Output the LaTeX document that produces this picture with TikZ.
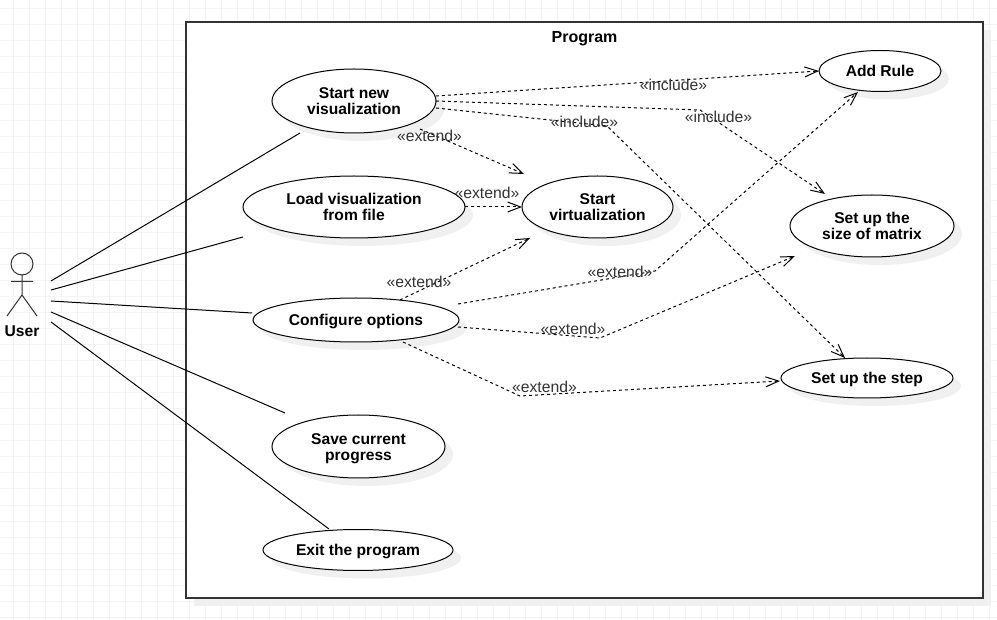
\documentclass[tikz,border=0pt]{standalone}
\usepackage{fontspec}
\setmainfont{Liberation Sans}
\usetikzlibrary{arrows.meta, calc, shapes.geometric, shadows}
\definecolor{gridgrey}{HTML}{F4F4F4}
\definecolor{shadowgrey}{HTML}{F0F0F0}
\definecolor{inkgrey}{HTML}{333333}
\tikzset{
  softshadow/.style={general shadow={shadow xshift=6pt, shadow yshift=-6pt, fill=shadowgrey, opacity=1}},
  usecase/.style={ellipse, draw=black, fill=white, softshadow, line width=0.75pt, inner sep=0pt, outer sep=0pt, align=center,
    text height=8.6pt, text depth=0pt, font=\fontsize{11.7pt}{12pt}\selectfont\bfseries},
  twolines/.style={text height=20.6pt},
  assoc/.style={line width=0.75pt, black},
  dep/.style={-{Straight Barb[length=9.75pt, width=7.5pt, line width=0.75pt]}, line width=0.75pt, black, dash pattern=on 2.25pt off 2.25pt},
  deplabel/.style={text=inkgrey, inner sep=0pt, font=\fontsize{11.8pt}{12pt}\selectfont},
}
\begin{document}
\begin{tikzpicture}[x=0.75pt, y=-0.75pt]
  \useasboundingbox (0,0) rectangle (997,620);

  % Background grid
  \foreach \gx in {13,29,...,997} {
    \draw[gridgrey, line width=0.75pt] (\gx,0) -- (\gx,620);
  }
  \foreach \gy in {9,25,...,620} {
    \draw[gridgrey, line width=0.75pt] (0,\gy) -- (997,\gy);
  }

  % System frame
  \node[rectangle, draw=inkgrey, fill=white, softshadow, line width=1pt, inner sep=0pt, outer sep=0pt,
    minimum width=597.75pt, minimum height=432pt] (frame) at (584.5,310) {};
  \node[inner sep=0pt, text height=8.6pt, text depth=0pt, font=\fontsize{12pt}{12pt}\selectfont\bfseries] (title) at (584.5,36.5) {Program};

  % Left column
  \node[usecase, twolines, minimum width=123pt, minimum height=48pt] (start) at (354,101) {Start new\\visualization};
  \node[usecase, twolines, minimum width=166.5pt, minimum height=46.5pt] (load) at (354,207) {Load visualization\\from file};
  \node[usecase, minimum width=154.5pt, minimum height=33pt] (config) at (356,320) {Configure options};
  \node[usecase, twolines, minimum width=129.75pt, minimum height=47.25pt] (save) at (358.5,446.5) {Save current\\progress};
  \node[usecase, minimum width=142.5pt, minimum height=30.75pt] (exit) at (358,550) {Exit the program};
  % Middle and right
  \node[usecase, twolines, minimum width=113.25pt, minimum height=46.5pt] (virt) at (597.5,207) {Start\\virtualization};
  \node[usecase, minimum width=91.5pt, minimum height=30.75pt] (rule) at (880,71) {Add Rule};
  \node[usecase, twolines, minimum width=123pt, minimum height=46.5pt] (matrix) at (872,226) {Set up the\\size of matrix};
  \node[usecase, minimum width=129pt, minimum height=30pt] (stepsize) at (867,378) {Set up the step};

  % Actor
  \coordinate (user) at (22,300);
  \draw[inkgrey, line width=0.75pt] (22,264) circle (8.25pt);
  \draw[inkgrey, line width=0.75pt] (22,274.5) -- (22,295) (11,281.5) -- (33,281.5) (7,316) -- (22,295) -- (37,316);
  \node[inner sep=0pt, text height=8.6pt, text depth=0pt, font=\fontsize{11.7pt}{12pt}\selectfont\bfseries] (userlabel) at (22,331) {User};

  % Associations
  \draw[assoc] ($(user)+(29,-19)$) -- ($(start)+(-54,32)$);
  \draw[assoc] ($(user)+(29,-10)$) -- ($(load)+(-111,30)$);
  \draw[assoc] ($(user)+(29,1)$) -- ($(config)+(-104,-7)$);
  \draw[assoc] ($(user)+(29,12)$) -- ($(save)+(-73.5,-33.5)$);
  \draw[assoc] ($(user)+(29,22)$) -- ($(exit)+(-29,-21)$);

  % Bends of the dependencies
  \coordinate (b1) at (655,271);
  \coordinate (b2) at (600,338);
  \coordinate (b3) at (520,396);
  \coordinate (b4) at (700,110);
  \coordinate (b5) at (607,126);

  % Dependencies
  \draw[dep] ($(start)+(66,28)$) -- ($(virt)+(-73.5,-33)$);
  \draw[dep] (load.east) -- (virt.west);
  \draw[dep] ($(config)+(44,-20)$) -- ($(virt)+(-67.5,31)$);
  \draw[dep] ($(config)+(102,-16)$) -- (b1) -- ($(rule)+(-22,21)$);
  \draw[dep] ($(config)+(102,7)$) -- (b2) -- ($(matrix)+(-77,30)$);
  \draw[dep] ($(config)+(47,22)$) -- (b3) -- ($(stepsize)+(-87,3)$);
  \draw[dep] ($(start)+(82,-5)$) -- (rule.west);
  \draw[dep] (start.east) -- (b4) -- ($(matrix)+(-47,-32)$);
  \draw[dep] ($(start)+(82,7)$) -- (b5) -- ($(stepsize)+(-22,-20)$);

  % Dependency labels
  \node[deplabel] (l1) at (429.5,135.5) {«extend»};
  \node[deplabel] (l2) at (487,192.5) {«extend»};
  \node[deplabel] (l3) at (419,281.5) {«extend»};
  \node[deplabel] (l4) at (620,271.5) {«extend»};
  \node[deplabel] (l5) at (573,328.5) {«extend»};
  \node[deplabel] (l6) at (544.5,386.5) {«extend»};
  \node[deplabel] (l7) at (673.5,84.5) {«include»};
  \node[deplabel] (l8) at (718.5,116.5) {«include»};
  \node[deplabel] (l9) at (584.5,121.5) {«include»};
\end{tikzpicture}
\end{document}
